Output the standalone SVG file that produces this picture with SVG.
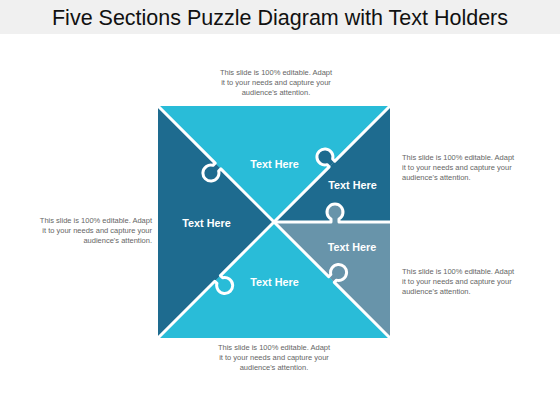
<svg xmlns="http://www.w3.org/2000/svg" width="560" height="420" viewBox="0 0 560 420">
  <style>
    .cyan { fill: #29bcd8; }
    .dark { fill: #1e6b8f; }
    .grey { fill: #6894aa; }
    .seam { fill: none; stroke: #ffffff; stroke-width: 3; stroke-linejoin: round; }
    .lbl { font-family: "Liberation Sans", Arial, sans-serif; font-size: 10.8px; font-weight: bold; fill: #ffffff; text-anchor: middle; }
    .desc { font-family: "Liberation Sans", Arial, sans-serif; font-size: 7.5px; fill: #666666; }
    .title { font-family: "Liberation Sans", Arial, sans-serif; font-size: 21.5px; fill: #111111; text-anchor: middle; }
  </style>
  <rect x="0" y="0" width="560" height="420" fill="#ffffff"/>
  <rect x="0" y="0" width="560" height="34" fill="#f0f0f0"/>
  <text class="title" x="280" y="25">Five Sections Puzzle Diagram with Text Holders</text>

  <g id="piece-top">
    <polygon class="cyan" points="158,106 390,106 274,222"/>
    <path class="cyan" d="M215.17,163.17 L213.00,165.34 A8,8 0 1 0 218.66,171.00 L220.83,168.83 Z"/>
    <text class="lbl" x="274.5" y="167.5">Text Here</text>
  </g>
  <g id="piece-left">
    <polygon class="dark" points="158,106 274,222 158,338"/>
    <path class="dark" d="M220.43,275.57 L222.60,277.74 A8,8 0 1 1 216.94,283.40 L214.77,281.23 Z"/>
    <text class="lbl" x="206.5" y="227">Text Here</text>
  </g>
  <g id="piece-bottom">
    <polygon class="cyan" points="158,338 274,222 390,338"/>
    <path class="cyan" d="M328.67,276.67 L330.84,274.50 A8,8 0 1 1 336.50,280.16 L334.33,282.33 Z"/>
    <text class="lbl" x="274.5" y="286">Text Here</text>
  </g>
  <g id="piece-right-upper">
    <polygon class="dark" points="390,106 274,222 390,222"/>
    <path class="dark" d="M334.83,161.17 L332.66,159.00 A8,8 0 1 0 327.00,164.66 L329.17,166.83 Z"/>
    <text class="lbl" x="352.5" y="189">Text Here</text>
  </g>
  <g id="piece-right-lower">
    <polygon class="grey" points="274,222 390,222 390,338"/>
    <path class="grey" d="M331,222 L331,218.93 A8,8 0 1 1 339,218.93 L339,222 Z"/>
    <text class="lbl" x="352" y="251">Text Here</text>
  </g>

  <g id="connectors">
    <path class="seam" d="M158,106 L215.17,163.17 L213.00,165.34 A8,8 0 1 0 218.66,171.00 L220.83,168.83 L274,222"/>
    <path class="seam" d="M390,106 L334.83,161.17 L332.66,159.00 A8,8 0 1 0 327.00,164.66 L329.17,166.83 L274,222"/>
    <path class="seam" d="M274,222 L331,222 L331,218.93 A8,8 0 1 1 339,218.93 L339,222 L390,222"/>
    <path class="seam" d="M274,222 L328.67,276.67 L330.84,274.50 A8,8 0 1 1 336.50,280.16 L334.33,282.33 L390,338"/>
    <path class="seam" d="M274,222 L220.43,275.57 L222.60,277.74 A8,8 0 1 1 216.94,283.40 L214.77,281.23 L158,338"/>
  </g>

  <g id="text-top">
    <text class="desc" text-anchor="middle" x="276" y="75">This slide is 100% editable. Adapt</text>
    <text class="desc" text-anchor="middle" x="276" y="85">it to your needs and capture your</text>
    <text class="desc" text-anchor="middle" x="276" y="95">audience's attention.</text>
  </g>
  <g id="text-right-upper">
    <text class="desc" x="402" y="159.5">This slide is 100% editable. Adapt</text>
    <text class="desc" x="402" y="169.5">it to your needs and capture your</text>
    <text class="desc" x="402" y="179.5">audience's attention.</text>
  </g>
  <g id="text-left">
    <text class="desc" text-anchor="end" x="152" y="223">This slide is 100% editable. Adapt</text>
    <text class="desc" text-anchor="end" x="152" y="233">it to your needs and capture your</text>
    <text class="desc" text-anchor="end" x="152" y="243">audience's attention.</text>
  </g>
  <g id="text-right-lower">
    <text class="desc" x="402" y="274">This slide is 100% editable. Adapt</text>
    <text class="desc" x="402" y="284">it to your needs and capture your</text>
    <text class="desc" x="402" y="294">audience's attention.</text>
  </g>
  <g id="text-bottom">
    <text class="desc" text-anchor="middle" x="274" y="350">This slide is 100% editable. Adapt</text>
    <text class="desc" text-anchor="middle" x="274" y="360">it to your needs and capture your</text>
    <text class="desc" text-anchor="middle" x="274" y="370">audience's attention.</text>
  </g>
</svg>
